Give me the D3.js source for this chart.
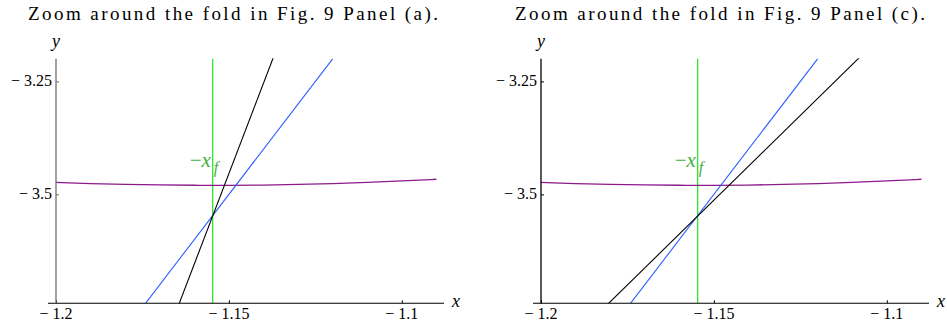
<!DOCTYPE html>
<html><head><meta charset="utf-8">
<script src="https://cdn.jsdelivr.net/npm/d3@7"></script>
</head><body style="margin:0">
<svg id="chart" width="947" height="328"></svg>
<script>
// ---- data ----
const panelTitles = ["Zoom around the fold in Fig. 9 Panel (a).", "Zoom around the fold in Fig. 9 Panel (c)."];
const xTicks = [-1.2, -1.15, -1.1];
const yTicks = [-3.25, -3.5];
const xTickLabels = ["\u2212 1.2", "\u2212 1.15", "\u2212 1.1"];
const yTickLabels = ["\u2212 3.25", "\u2212 3.5"];
const xDomain = [-1.2, -1.0878];
const yDomain = [-3.741, -3.2];
const xf = -1.1547;
const purpleX = [-1.2, -1.19, -1.18, -1.17, -1.16, -1.15, -1.14, -1.13, -1.12, -1.11, -1.10, -1.09];
const purpleY = [-3.4735, -3.4765, -3.478, -3.4793, -3.4799, -3.4800, -3.4795, -3.478, -3.4762, -3.4735, -3.4703, -3.4665];
const blueX = [-1.175, -1.12];
const blueY = [-3.750, -3.200];
const blackXa = [-1.165, -1.137];
const blackYa = [-3.754, -3.194];
const blackXc = [-1.1815, -1.1075];
const blackYc = [-3.749, -3.194];
const labelY = -3.44;

const panels = [
  {dx: 0, titleX: 28, title: panelTitles[0], blackX: blackXa, blackY: blackYa, yAxisColor: "#6e6e6e"},
  {dx: 485, titleX: 515, title: panelTitles[1], blackX: blackXc, blackY: blackYc, yAxisColor: "#000"}
];

const svg = d3.select("#chart");

panels.forEach((p, i) => {
  const x = d3.scaleLinear().domain(xDomain).range([56 + p.dx, 444 + p.dx]);
  const y = d3.scaleLinear().domain(yDomain).range([303.3, 58.8]);
  const x0 = x(xDomain[0]);
  const x1 = x(xDomain[1]);

  svg.append("text").attr("x", p.titleX).attr("y", 20)
    .attr("text-anchor", "start")
    .attr("font-family", "Liberation Serif").attr("font-size", 19)
    .attr("textLength", 410).attr("lengthAdjust", "spacing")
    .text(p.title);

  const cid = "clip" + i;
  svg.append("clipPath").attr("id", cid).append("rect")
    .attr("x", x0).attr("y", 58.3).attr("width", x1 - x0).attr("height", 245);
  const plot = svg.append("g").attr("clip-path", `url(#${cid})`);

  plot.append("line")
    .attr("x1", x(xf)).attr("x2", x(xf)).attr("y1", y(yDomain[1])).attr("y2", y(yDomain[0]))
    .attr("stroke", "#2ee82e").attr("stroke-width", 1.3);

  const curve = d3.line().x((d, k) => x(purpleX[k])).y((d, k) => y(purpleY[k])).curve(d3.curveBasis);
  plot.append("path").datum(purpleX).attr("d", curve)
    .attr("fill", "none").attr("stroke", "#8c1a8c").attr("stroke-width", 1.3);

  const seg = d3.line().x(d => x(d[0])).y(d => y(d[1]));
  plot.append("path").datum(d3.zip(blueX, blueY)).attr("d", seg)
    .attr("fill", "none").attr("stroke", "#2c5cff").attr("stroke-width", 1.1);
  plot.append("path").datum(d3.zip(p.blackX, p.blackY)).attr("d", seg)
    .attr("fill", "none").attr("stroke", "#000").attr("stroke-width", 1.1);

  const xAxis = d3.axisBottom(x).tickValues(xTicks).tickFormat("")
    .tickSizeInner(-3).tickSizeOuter(0);
  const gx = svg.append("g").attr("transform", `translate(0,${y(yDomain[0])})`).call(xAxis);
  gx.select(".domain").remove();
  gx.selectAll(".tick line").attr("stroke", "#000");
  svg.append("line").attr("x1", x0 - 8).attr("x2", x1)
    .attr("y1", y(yDomain[0])).attr("y2", y(yDomain[0]))
    .attr("stroke", "#000").attr("stroke-width", 1.1);
  xTicks.forEach((t, k) => {
    svg.append("text").attr("x", x(t)).attr("y", 319).attr("text-anchor", "middle")
      .attr("font-family", "Liberation Serif").attr("font-size", 16)
      .text(xTickLabels[k]);
  });

  const yAxis = d3.axisLeft(y).tickValues(yTicks).tickFormat("")
    .tickSizeInner(-3).tickSizeOuter(0);
  const gy = svg.append("g").attr("transform", `translate(${x0},0)`).call(yAxis);
  gy.select(".domain").remove();
  gy.selectAll(".tick line").attr("stroke", p.yAxisColor);
  svg.append("line").attr("x1", x0).attr("x2", x0)
    .attr("y1", y(yDomain[1])).attr("y2", y(yDomain[0]))
    .attr("stroke", p.yAxisColor).attr("stroke-width", 1.3);
  yTicks.forEach((t, k) => {
    svg.append("text").attr("x", x0 - 4).attr("y", y(t) + 5).attr("text-anchor", "end")
      .attr("font-family", "Liberation Serif").attr("font-size", 16)
      .text(yTickLabels[k]);
  });

  svg.append("text").attr("x", x1 + 8).attr("y", 307)
    .attr("font-family", "Liberation Serif").attr("font-style", "italic").attr("font-size", 18)
    .text("x");
  svg.append("text").attr("x", x0).attr("y", 47).attr("text-anchor", "middle")
    .attr("font-family", "Liberation Serif").attr("font-style", "italic").attr("font-size", 18)
    .text("y");

  const lab = svg.append("text").attr("x", x(xf) - 23).attr("y", y(labelY))
    .attr("font-family", "Liberation Serif").attr("font-size", 21).attr("fill", "#45b045");
  lab.append("tspan").text("\u2212");
  lab.append("tspan").attr("font-style", "italic").text("x");
  lab.append("tspan").attr("font-style", "italic").attr("font-size", 16)
    .attr("dx", 3).attr("dy", 6).text("f");
});
</script>
</body></html>
